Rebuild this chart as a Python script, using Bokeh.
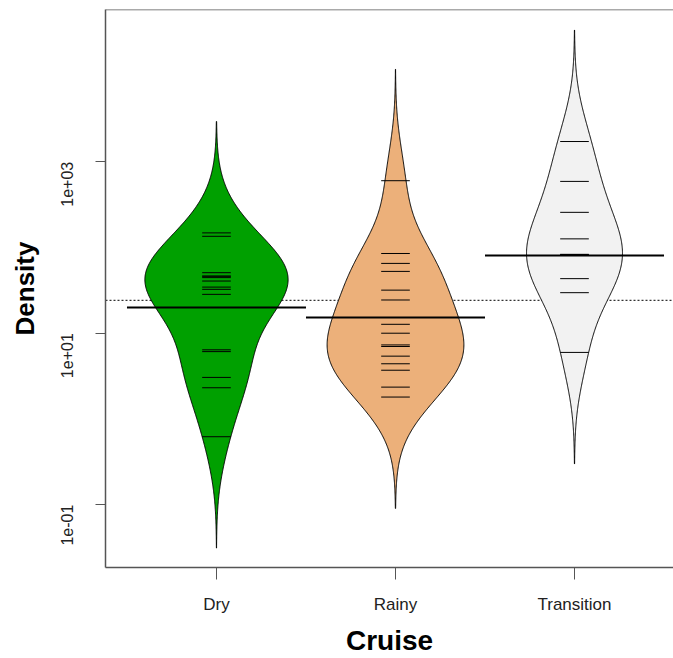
import math
import numpy as np
from bokeh.plotting import figure
from bokeh.models import FixedTicker, Span, Range1d
from bokeh.embed import file_html
from bokeh.resources import INLINE

# ---- data ----
categories = ["Dry", "Rainy", "Transition"]
dry = [148, 135, 50.8, 46.3, 46.3, 44.5, 40.6, 34.5, 32.5, 28.4, 6.4, 6.1, 3.05, 2.31, 0.62]
rainy = [601, 85.1, 65.2, 52.6, 31.8, 24.4, 12.7, 10.0, 7.3, 7.0, 5.4, 4.4, 3.7, 2.35, 1.80]
transition = [1722, 590, 257, 126, 83, 83, 43.3, 29.7, 5.97]
bean_means = [19.9, 15.2, 80.7]
overall_mean = 24.2
fill_colors = ["#00A000", "#ECB07A", "#F2F2F2"]
y_ticks = [0.1, 10, 1000]
y_tick_labels = ["1e-01", "1e+01", "1e+03"]

series = [dry, rainy, transition]
positions = [1, 2, 3]

# bean shape: gaussian kernel density of log10 values (beanplot style)
bw = 0.433
bean_halfwidths = [0.40, 0.382, 0.268]   # widest point of each bean (x units)

xs, ys = [], []
for pos, vals, hw in zip(positions, series, bean_halfwidths):
    lv = np.log10(np.array(vals, dtype=float))
    grid = np.linspace(lv.min() - 3 * bw, lv.max() + 3 * bw, 512)
    d = np.exp(-0.5 * ((grid[:, None] - lv[None, :]) / bw) ** 2).sum(axis=1)
    w = d / d.max() * hw
    xs.append(list(pos - w) + list((pos + w)[::-1]))
    ys.append(list(10 ** grid) + list((10 ** grid)[::-1]))

y_lo, y_hi = 10 ** -1.733, 10 ** 4.776
p = figure(width=673, height=658,
           x_range=Range1d(0.38, 3.553),
           y_range=Range1d(y_lo, y_hi),
           y_axis_type="log",
           output_backend="svg", toolbar_location=None,
           min_border_left=105, min_border_right=0,
           min_border_top=9, min_border_bottom=89)
p.outline_line_color = None
p.xgrid.visible = False
p.ygrid.visible = False
p.background_fill_color = "white"
p.border_fill_color = "white"

# overall mean (dotted, behind beans)
p.add_layout(Span(location=overall_mean, dimension="width", line_color="black",
                  line_dash="2 2", line_width=1, level="underlay"))

p.patches(xs=xs, ys=ys, fill_color=fill_colors, line_color="black", line_width=1)

# individual observations
lx0, lx1, ly = [], [], []
for pos, vals in zip(positions, series):
    for v in vals:
        lx0.append(pos - 0.08)
        lx1.append(pos + 0.08)
        ly.append(v)
p.segment(x0=lx0, x1=lx1, y0=ly, y1=ly, line_color="black", line_width=1)

# bean means
p.segment(x0=[c - 0.5 for c in positions], x1=[c + 0.5 for c in positions],
          y0=bean_means, y1=bean_means, line_color="black", line_width=2)

axis_col = "#555555"
font = "Liberation Sans"

# top border of the box
p.add_layout(Span(location=y_hi, dimension="width", line_color=axis_col,
                  line_width=1.5, level="overlay"))

# x axis
xa = p.xaxis[0]
xa.ticker = FixedTicker(ticks=positions)
xa.major_label_overrides = {pos: c for pos, c in zip(positions, categories)}
xa.axis_label = "Cruise"
xa.axis_label_text_font = font
xa.axis_label_text_font_style = "bold"
xa.axis_label_text_font_size = "28px"
xa.axis_label_text_color = "black"
xa.axis_label_standoff = 8
xa.major_label_text_font = font
xa.major_label_text_font_size = "17px"
xa.major_label_text_color = "#222222"
xa.major_label_standoff = 15
xa.major_tick_out = 12
xa.major_tick_in = 0
xa.minor_tick_line_color = None
xa.axis_line_color = axis_col
xa.axis_line_width = 1.5
xa.major_tick_line_color = axis_col

# y axis
ya = p.yaxis[0]
ya.ticker = FixedTicker(ticks=y_ticks, minor_ticks=[])
ya.major_label_overrides = {t: s for t, s in zip(y_ticks, y_tick_labels)}
ya.major_label_orientation = math.pi / 2
ya.axis_label = "Density"
ya.axis_label_text_font = font
ya.axis_label_text_font_style = "bold"
ya.axis_label_text_font_size = "26px"
ya.axis_label_text_color = "black"
ya.axis_label_standoff = 13
ya.major_label_text_font = font
ya.major_label_text_font_size = "16px"
ya.major_label_text_color = "#222222"
ya.major_label_standoff = 28
ya.major_tick_out = 10
ya.major_tick_in = 0
ya.minor_tick_line_color = None
ya.axis_line_color = axis_col
ya.axis_line_width = 1.5
ya.major_tick_line_color = axis_col

open("out.html", "w").write(file_html(p, INLINE))
